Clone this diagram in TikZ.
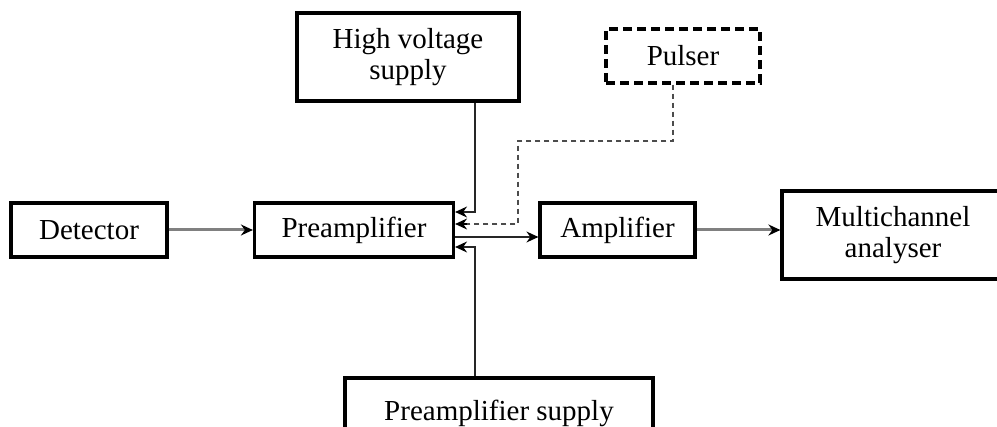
\documentclass[tikz,border=0pt]{standalone}
\usepackage{fontspec}
\setmainfont{Liberation Serif}
\usetikzlibrary{arrows.meta,calc}
\begin{document}
\begin{tikzpicture}[x=1pt,y=-1pt,
  blk/.style={draw=black,line width=3.2pt,rectangle,inner sep=0pt,align=center,
    font=\fontsize{29}{30.5}\selectfont},
  pulsebox/.style={blk,dash pattern=on 9pt off 5pt},
  tip/.style={-{Stealth[length=12pt,width=11pt,inset=4pt,color=black]}},
  wire/.style={line width=1.6pt,draw=black!85},
  graywire/.style={line width=3pt,draw=black!50},
  dwire/.style={line width=1.5pt,draw=black!70,dash pattern=on 5pt off 4pt}]
\useasboundingbox (0,0) rectangle (997,427);
\node[blk,minimum width=156pt,minimum height=54pt] (det) at (89,230) {Detector};
\node[blk,minimum width=199pt,minimum height=54pt] (pre) at (354,230) {Preamplifier};
\node[blk,minimum width=155pt,minimum height=54pt] (amp) at (617.5,230) {Amplifier};
\node[blk,minimum width=222pt,minimum height=88pt] (mca) at (893,235) {Multichannel\\analyser};
\node[blk,minimum width=222pt,minimum height=88pt] (hv) at (408,57) {High voltage\\supply};
\node[pulsebox,minimum width=154pt,minimum height=54pt] (pul) at (683,56) {Pulser};
\node[blk,minimum width=308pt,minimum height=70pt] (ps) at (499,413) {Preamplifier supply};
\coordinate (bus) at (475,0);
\coordinate (pj1) at (673,141);
\coordinate (pj2) at (518,141);
\draw[graywire,tip] (det) -- (pre);
\draw[graywire,tip] (amp) -- (mca.west |- amp);
\draw[wire,tip] (hv.south -| bus) |- ($(pre.east)+(0,-18)$);
\draw[wire,tip] (ps.north -| bus) |- ($(pre.east)+(0,17)$);
\draw[wire,tip] ($(pre.east)+(0,7)$) -- ($(amp.west)+(0,7)$);
\draw[dwire] (pul.south -| pj1) -- (pj1) -- (pj2) |- ($(pre.east)+(12,-6)$);
\draw[tip,draw=black,line width=1.6pt] ($(pre.east)+(12,-6)$) -- ($(pre.east)+(0,-6)$);
\end{tikzpicture}
\end{document}
